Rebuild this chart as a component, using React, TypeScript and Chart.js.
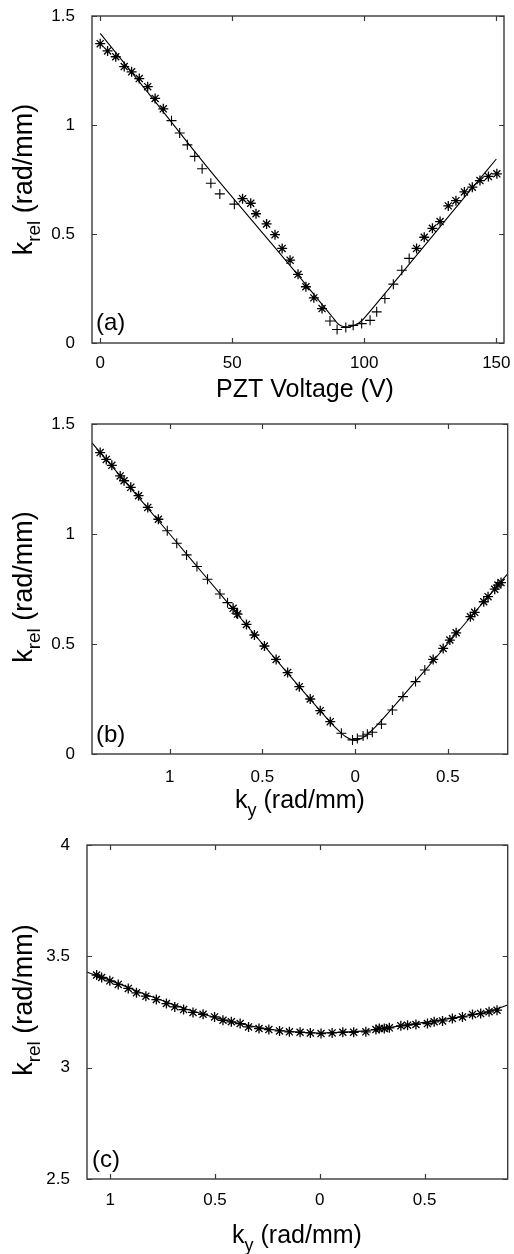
import React, { useEffect, useRef } from "react";
import { Chart, registerables } from "chart.js";
Chart.register(...registerables);

// ---------- Panel (a): k_rel vs PZT voltage ----------
const A_STAR_V = [0, 2.8, 5.9, 9.1, 11.9, 14.8, 18.0, 20.8, 23.9, 53.9, 57.0, 59.0, 63.0, 66.2, 68.9, 71.9, 74.9, 77.9, 80.9, 84.0, 119.8, 122.7, 125.8, 128.7, 131.8, 134.7, 137.9, 140.9, 143.8, 147.0, 150.2];
const A_STAR_K = [1.373, 1.340, 1.313, 1.268, 1.244, 1.213, 1.176, 1.122, 1.074, 0.662, 0.641, 0.593, 0.546, 0.497, 0.434, 0.380, 0.315, 0.258, 0.207, 0.158, 0.434, 0.485, 0.526, 0.557, 0.629, 0.653, 0.693, 0.715, 0.745, 0.764, 0.776];
const A_CROSS_V = [27.0, 30.1, 33.0, 35.8, 38.6, 41.9, 45.3, 50.8, 87.0, 89.7, 93.0, 95.8, 99.0, 102.2, 104.7, 107.8, 111.0, 114.2, 117.0];
const A_CROSS_K = [1.020, 0.963, 0.909, 0.856, 0.799, 0.733, 0.684, 0.637, 0.101, 0.062, 0.071, 0.081, 0.089, 0.104, 0.143, 0.204, 0.270, 0.334, 0.388];
const A_FIT_V = [0, 20, 40, 60, 75, 85, 88, 89.5, 91, 93, 95, 97, 99, 102, 110, 120, 130, 140, 150];
const A_FIT_K = [1.42, 1.12, 0.815, 0.526, 0.31, 0.162, 0.118, 0.095, 0.080, 0.074, 0.076, 0.085, 0.102, 0.143, 0.259, 0.405, 0.552, 0.699, 0.844];
const A_X_TICKS = [0, 50, 100, 150];
const A_X_LABELS = ["0", "50", "100", "150"];
const A_Y_TICKS = [0, 0.5, 1, 1.5];
const A_Y_LABELS = ["0", "0.5", "1", "1.5"];

// ---------- Panel (b): k_rel vs k_y ----------
const B_STAR_KY = [-1.375, -1.342, -1.312, -1.267, -1.246, -1.210, -1.168, -1.118, -1.061, -0.658, -0.634, -0.586, -0.543, -0.489, -0.426, -0.364, -0.301, -0.242, -0.188, -0.134, 0.421, 0.475, 0.511, 0.545, 0.622, 0.645, 0.694, 0.717, 0.753, 0.770, 0.787];
const B_STAR_K = [1.370, 1.339, 1.312, 1.264, 1.242, 1.212, 1.174, 1.121, 1.067, 0.662, 0.636, 0.589, 0.541, 0.491, 0.430, 0.370, 0.306, 0.250, 0.197, 0.147, 0.430, 0.480, 0.518, 0.551, 0.624, 0.644, 0.692, 0.715, 0.749, 0.768, 0.779];
const B_CROSS_KY = [-1.013, -0.962, -0.909, -0.853, -0.796, -0.729, -0.688, -0.640, -0.074, -0.014, 0.012, 0.043, 0.066, 0.093, 0.142, 0.201, 0.258, 0.326, 0.376];
const B_CROSS_K = [1.015, 0.958, 0.905, 0.852, 0.794, 0.727, 0.688, 0.640, 0.094, 0.064, 0.070, 0.082, 0.090, 0.099, 0.136, 0.200, 0.261, 0.329, 0.382];
const B_FIT_KY = [-1.42, -1.2, -1.0, -0.8, -0.6, -0.4, -0.2, -0.1, -0.05, 0, 0.05, 0.1, 0.2, 0.4, 0.6, 0.83];
const B_FIT_K = [1.415, 1.198, 1.0, 0.80, 0.60, 0.403, 0.208, 0.115, 0.078, 0.062, 0.078, 0.115, 0.208, 0.403, 0.60, 0.826];
const B_X_TICKS = [-1, -0.5, 0, 0.5];
const B_X_LABELS = ["1", "0.5", "0", "0.5"];
const B_Y_TICKS = [0, 0.5, 1, 1.5];
const B_Y_LABELS = ["0", "0.5", "1", "1.5"];

// ---------- Panel (c): k_rel vs k_y ----------
const C_STAR_KY = [-1.065, -1.041, -1.002, -0.962, -0.914, -0.875, -0.830, -0.780, -0.732, -0.692, -0.650, -0.605, -0.557, -0.502, -0.462, -0.422, -0.380, -0.340, -0.290, -0.243, -0.192, -0.145, -0.094, -0.045, 0.006, 0.059, 0.110, 0.162, 0.220, 0.268, 0.284, 0.308, 0.332, 0.387, 0.419, 0.459, 0.514, 0.546, 0.586, 0.633, 0.681, 0.729, 0.768, 0.808, 0.846];
const C_STAR_K = [3.416, 3.405, 3.390, 3.374, 3.356, 3.336, 3.321, 3.306, 3.288, 3.273, 3.261, 3.248, 3.240, 3.228, 3.213, 3.206, 3.198, 3.183, 3.176, 3.171, 3.165, 3.161, 3.159, 3.156, 3.153, 3.156, 3.159, 3.159, 3.161, 3.171, 3.176, 3.176, 3.179, 3.188, 3.191, 3.194, 3.198, 3.206, 3.210, 3.221, 3.228, 3.239, 3.243, 3.251, 3.258];
const C_FIT_KY = [-1.113, -1.0, -0.8, -0.6, -0.4, -0.2, 0, 0.2, 0.4, 0.6, 0.8, 0.897];
const C_FIT_K = [3.43, 3.392, 3.318, 3.252, 3.202, 3.168, 3.156, 3.164, 3.19, 3.218, 3.25, 3.281];
const C_X_TICKS = [-1, -0.5, 0, 0.5];
const C_X_LABELS = ["1", "0.5", "0", "0.5"];
const C_Y_TICKS = [2.5, 3, 3.5, 4];
const C_Y_LABELS = ["2.5", "3", "3.5", "4"];

const FONT = '"Liberation Sans", Arial, Helvetica, sans-serif';
const W = 514;

type Part = { t: string; sub?: boolean };

function drawRich(ctx: CanvasRenderingContext2D, parts: Part[], size: number) {
  const subSize = Math.round(size * 0.72);
  const widths = parts.map((p) => {
    ctx.font = `${p.sub ? subSize : size}px ${FONT}`;
    return ctx.measureText(p.t).width;
  });
  const total = widths.reduce((a, b) => a + b, 0);
  let x = -total / 2;
  ctx.textAlign = "left";
  ctx.textBaseline = "alphabetic";
  parts.forEach((p, i) => {
    ctx.font = `${p.sub ? subSize : size}px ${FONT}`;
    ctx.fillText(p.t, x, p.sub ? size * 0.3 : 0);
    x += widths[i];
  });
}

const toPts = (xs: number[], ys: number[]) => xs.map((x, i) => ({ x, y: ys[i] }));

interface PanelCfg {
  offset: number;
  height: number;
  area: { left: number; right: number; top: number; bottom: number };
  xMin: number; xMax: number; yMin: number; yMax: number;
  xTicks: number[]; xLabels: string[]; yTicks: number[]; yLabels: string[];
  xPad: number;
  stars: { x: number; y: number }[];
  crosses: { x: number; y: number }[];
  fit: { x: number; y: number }[];
  xTitle: Part[]; xTitleX: number; xTitleY: number;
  yTitleX: number; yTitleY: number;
  label: string; labelX: number; labelY: number;
}

const Y_TITLE: Part[] = [{ t: "k" }, { t: "rel", sub: true }, { t: " (rad/mm)" }];
const KY_TITLE: Part[] = [{ t: "k" }, { t: "y", sub: true }, { t: " (rad/mm)" }];

const PANELS: PanelCfg[] = [
  {
    offset: 0, height: 405,
    area: { left: 92, right: 504, top: 16, bottom: 343 },
    xMin: -3.1, xMax: 152.9, yMin: 0, yMax: 1.5,
    xTicks: A_X_TICKS, xLabels: A_X_LABELS, yTicks: A_Y_TICKS, yLabels: A_Y_LABELS,
    xPad: 2,
    stars: toPts(A_STAR_V, A_STAR_K), crosses: toPts(A_CROSS_V, A_CROSS_K), fit: toPts(A_FIT_V, A_FIT_K),
    xTitle: [{ t: "PZT Voltage (V)" }], xTitleX: 305, xTitleY: 397,
    yTitleX: 32, yTitleY: 179.5,
    label: "(a)", labelX: 96, labelY: 330,
  },
  {
    offset: 405, height: 425,
    area: { left: 92, right: 509, top: 19, bottom: 349 },
    xMin: -1.419, xMax: 0.823, yMin: 0, yMax: 1.5,
    xTicks: B_X_TICKS, xLabels: B_X_LABELS, yTicks: B_Y_TICKS, yLabels: B_Y_LABELS,
    xPad: 5,
    stars: toPts(B_STAR_KY, B_STAR_K), crosses: toPts(B_CROSS_KY, B_CROSS_K), fit: toPts(B_FIT_KY, B_FIT_K),
    xTitle: KY_TITLE, xTitleX: 300, xTitleY: 403,
    yTitleX: 32, yTitleY: 182,
    label: "(b)", labelX: 96, labelY: 337,
  },
  {
    offset: 830, height: 424,
    area: { left: 87, right: 509, top: 15, bottom: 349 },
    xMin: -1.111, xMax: 0.897, yMin: 2.5, yMax: 4,
    xTicks: C_X_TICKS, xLabels: C_X_LABELS, yTicks: C_Y_TICKS, yLabels: C_Y_LABELS,
    xPad: 3,
    stars: toPts(C_STAR_KY, C_STAR_K), crosses: [], fit: toPts(C_FIT_KY, C_FIT_K),
    xTitle: KY_TITLE, xTitleX: 297, xTitleY: 413,
    yTitleX: 32, yTitleY: 170,
    label: "(c)", labelX: 92, labelY: 337,
  },
];

function buildConfig(p: PanelCfg): any {
  const framePlugin = {
    id: "matlabFrame",
    afterDraw(chart: any) {
      const { ctx, chartArea: a, scales } = chart;
      ctx.save();
      ctx.strokeStyle = "#3a3a3a";
      ctx.lineWidth = 1.4;
      ctx.strokeRect(a.left, a.top, a.right - a.left, a.bottom - a.top);
      const tl = 5;
      ctx.beginPath();
      scales.x.ticks.forEach((t: any) => {
        const px = Math.round(scales.x.getPixelForValue(t.value)) + 0.5;
        ctx.moveTo(px, a.bottom); ctx.lineTo(px, a.bottom - tl);
        ctx.moveTo(px, a.top); ctx.lineTo(px, a.top + tl);
      });
      scales.y.ticks.forEach((t: any) => {
        const py = Math.round(scales.y.getPixelForValue(t.value)) + 0.5;
        ctx.moveTo(a.left, py); ctx.lineTo(a.left + tl, py);
        ctx.moveTo(a.right, py); ctx.lineTo(a.right - tl, py);
      });
      ctx.lineWidth = 1.2;
      ctx.stroke();
      ctx.fillStyle = "#000";
      // x title
      ctx.save();
      ctx.translate(p.xTitleX, p.xTitleY);
      drawRich(ctx, p.xTitle, 25);
      ctx.restore();
      // y title
      ctx.save();
      ctx.translate(p.yTitleX, p.yTitleY);
      ctx.rotate(-Math.PI / 2);
      drawRich(ctx, Y_TITLE, 27);
      ctx.restore();
      // panel label
      ctx.font = `24px ${FONT}`;
      ctx.textAlign = "left";
      ctx.textBaseline = "alphabetic";
      ctx.fillText(p.label, p.labelX, p.labelY);
      ctx.restore();
    },
  };

  const datasets: any[] = [
    {
      label: "fit",
      data: p.fit,
      showLine: true,
      pointRadius: 0,
      borderColor: "#000",
      borderWidth: 1.1,
      cubicInterpolationMode: "monotone",
      fill: false,
    },
    {
      label: "stars",
      data: p.stars,
      showLine: false,
      pointStyle: "star",
      pointRadius: 5,
      borderColor: "#000",
      backgroundColor: "#000",
      pointBorderWidth: 1.3,
    },
  ];
  if (p.crosses.length) {
    datasets.push({
      label: "crosses",
      data: p.crosses,
      showLine: false,
      pointStyle: "cross",
      pointRadius: 5,
      borderColor: "#000",
      backgroundColor: "#000",
      pointBorderWidth: 1.1,
    });
  }

  const tickFont = { family: FONT, size: 17 };
  return {
    type: "scatter",
    data: { datasets },
    options: {
      responsive: false,
      animation: false,
      devicePixelRatio: 1,
      events: [],
      layout: { padding: { left: 0, top: p.area.top, right: W - p.area.right, bottom: 0 } },
      plugins: { legend: { display: false }, tooltip: { enabled: false }, title: { display: false } },
      scales: {
        x: {
          type: "linear",
          min: p.xMin,
          max: p.xMax,
          grid: { display: false },
          border: { display: false },
          ticks: {
            font: tickFont,
            color: "#000",
            padding: p.xPad,
            maxRotation: 0,
            autoSkip: false,
            callback: (_v: any, i: number) => p.xLabels[i],
          },
          afterBuildTicks: (s: any) => { s.ticks = p.xTicks.map((v) => ({ value: v })); },
          afterFit: (s: any) => {
            s.height = p.height - p.area.bottom;
            s.paddingLeft = 0; s.paddingRight = 0;
          },
        },
        y: {
          type: "linear",
          min: p.yMin,
          max: p.yMax,
          grid: { display: false },
          border: { display: false },
          ticks: {
            font: tickFont,
            color: "#000",
            padding: 9,
            autoSkip: false,
            callback: (_v: any, i: number) => p.yLabels[i],
          },
          afterBuildTicks: (s: any) => { s.ticks = p.yTicks.map((v) => ({ value: v })); },
          afterFit: (s: any) => {
            s.width = p.area.left;
            s.paddingTop = 0; s.paddingBottom = 0;
          },
        },
      },
    },
    plugins: [framePlugin],
  };
}

function Panel({ cfg }: { cfg: PanelCfg }) {
  const ref = useRef<HTMLCanvasElement | null>(null);
  useEffect(() => {
    if (!ref.current) return;
    const chart = new Chart(ref.current, buildConfig(cfg));
    return () => chart.destroy();
  }, [cfg]);
  return (
    <canvas
      ref={ref}
      width={W}
      height={cfg.height}
      style={{ position: "absolute", left: 0, top: cfg.offset, width: W, height: cfg.height, display: "block" }}
    />
  );
}

export default function App() {
  return (
    <div style={{ position: "absolute", left: 0, top: 0, width: W, height: 1254, background: "#fff", overflow: "hidden" }}>
      {PANELS.map((p, i) => (
        <Panel key={i} cfg={p} />
      ))}
    </div>
  );
}
